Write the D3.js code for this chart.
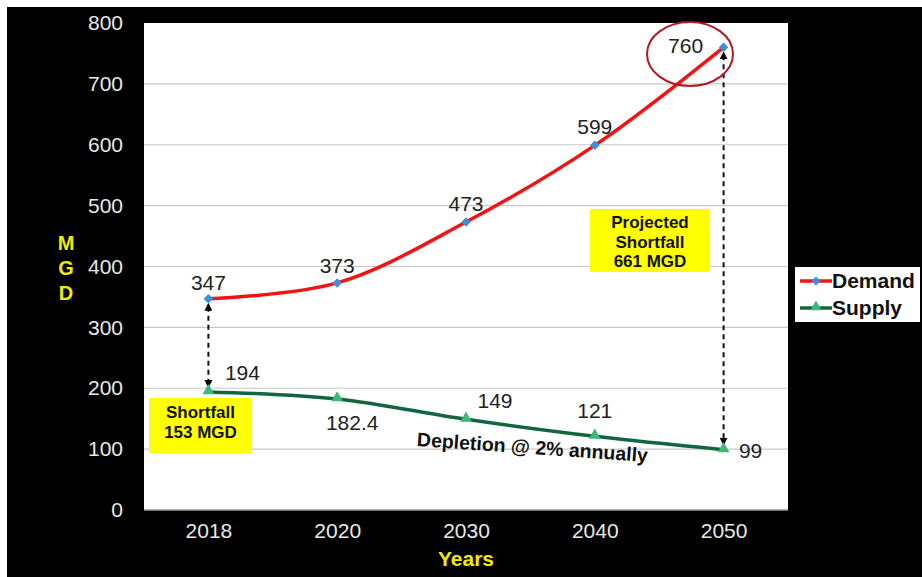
<!DOCTYPE html>
<html>
<head>
<meta charset="utf-8">
<script src="https://cdn.jsdelivr.net/npm/d3@7"></script>
<style>
html,body{margin:0;padding:0;background:#fff;}
svg{display:block;}
text{font-family:"Liberation Sans",Arial,sans-serif;}
</style>
</head>
<body>
<svg id="chart" width="922" height="577"></svg>
<script>
const years = ["2018","2020","2030","2040","2050"];
const demand = [347,373,473,599,760];
const supply = [194,182.4,149,121,99];
const demandLabels = ["347","373","473","599","760"];
const supplyLabels = ["194","182.4","149","121","99"];
const yTicks = [0,100,200,300,400,500,600,700,800];

const svg = d3.select("#chart");
svg.append("rect").attr("x",0).attr("y",0).attr("width",922).attr("height",577).attr("fill","#fff");
svg.append("rect").attr("x",7).attr("y",7).attr("width",915).attr("height",570).attr("fill","#000");

const L=144, R=788, T=23, B=510;
const x = d3.scalePoint().domain(years).range([L,R]).padding(0.5);
const y = d3.scaleLinear().domain([0,800]).range([B,T]);

svg.append("rect").attr("x",L).attr("y",T).attr("width",R-L).attr("height",B-T).attr("fill","#fff");

svg.append("g").selectAll("line").data(yTicks.filter(d=>d>0 && d<800)).join("line")
  .attr("x1",L).attr("x2",R).attr("y1",d=>y(d)).attr("y2",d=>y(d))
  .attr("stroke","#c8c8c8").attr("stroke-width",1.2);
svg.append("line").attr("x1",L).attr("x2",R).attr("y1",B).attr("y2",B).attr("stroke","#999").attr("stroke-width",1.5);

const yAxis = d3.axisLeft(y).tickValues(yTicks).tickSize(0).tickPadding(0);
const gy = svg.append("g").attr("transform",`translate(${L-21},0)`).call(yAxis);
gy.select(".domain").remove();
gy.selectAll("text").attr("fill","#e8e8e8").style("font-size","21px").attr("font-family","'Liberation Sans',Arial,sans-serif");

const xAxis = d3.axisBottom(x).tickSize(0).tickPadding(0);
const gx = svg.append("g").attr("transform",`translate(0,${B+13})`).call(xAxis);
gx.select(".domain").remove();
gx.selectAll("text").attr("fill","#e8e8e8").style("font-size","21px").attr("font-family","'Liberation Sans',Arial,sans-serif");

svg.append("text").attr("x",x("2030")).attr("y",566).attr("text-anchor","middle")
  .attr("fill","#f2ea00").style("font-size","21px").style("font-weight","bold").text("Years");
const mgd = svg.append("text").attr("fill","#f2ea00").style("font-size","20px").style("font-weight","bold").attr("text-anchor","middle");
["M","G","D"].forEach((c,i)=>{
  mgd.append("tspan").attr("x",66).attr("y",250+i*25).text(c);
});

const defs = svg.append("defs");
defs.append("marker").attr("id","arr").attr("viewBox","0 0 10 10").attr("refX",5).attr("refY",5)
  .attr("markerWidth",4).attr("markerHeight",4).attr("orient","auto-start-reverse")
  .append("path").attr("d","M0,0 L10,5 L0,10 z").attr("fill","#000");

function dashedArrow(cat, v1, v2){
  svg.append("line").attr("x1",x(cat)).attr("x2",x(cat))
    .attr("y1",y(v1)+8).attr("y2",y(v2)-8)
    .attr("stroke","#111").attr("stroke-width",2).attr("stroke-dasharray","5,4")
    .attr("marker-start","url(#arr)").attr("marker-end","url(#arr)");
}
dashedArrow("2018",347,194);
dashedArrow("2050",760,99);

const line = d3.line().x((d,i)=>x(years[i])).y(d=>y(d)).curve(d3.curveCatmullRom.alpha(0.5));
svg.append("path").datum(supply).attr("d",line).attr("fill","none").attr("stroke","#12663f").attr("stroke-width",3.5);
svg.append("path").datum(demand).attr("d",line).attr("fill","none").attr("stroke","#f01414").attr("stroke-width",3.5);

svg.append("g").selectAll("path").data(demand).join("path")
  .attr("d",d3.symbol().type(d3.symbolSquare).size(45))
  .attr("transform",(d,i)=>`translate(${x(years[i])},${y(d)}) rotate(45)`)
  .attr("fill","#3d8fd8");
svg.append("g").selectAll("path").data(supply).join("path")
  .attr("d",d3.symbol().type(d3.symbolTriangle).size(60))
  .attr("transform",(d,i)=>`translate(${x(years[i])},${y(d)-1})`)
  .attr("fill","#3cb878");

const dOff = [[0,-9],[0,-10],[0,-11],[0,-11],[-38,6]];
svg.append("g").selectAll("text").data(demand).join("text")
  .attr("x",(d,i)=>x(years[i])+dOff[i][0]).attr("y",(d,i)=>y(d)+dOff[i][1])
  .attr("text-anchor","middle").attr("fill","#222").style("font-size","21px")
  .text((d,i)=>demandLabels[i]);
const sOff = [[34,-12],[15,31],[29,-11],[0,-18],[27,8]];
svg.append("g").selectAll("text").data(supply).join("text")
  .attr("x",(d,i)=>x(years[i])+sOff[i][0]).attr("y",(d,i)=>y(d)+sOff[i][1])
  .attr("text-anchor","middle").attr("fill","#222").style("font-size","21px")
  .text((d,i)=>supplyLabels[i]);

svg.append("ellipse").attr("cx",690).attr("cy",54).attr("rx",43).attr("ry",32)
  .attr("fill","none").attr("stroke","#b01c22").attr("stroke-width",2);

function yellowBox(bx,by,bw,bh,lines,ly0,lh){
  svg.append("rect").attr("x",bx).attr("y",by).attr("width",bw).attr("height",bh).attr("fill","#ffff00");
  lines.forEach((s,i)=>svg.append("text").attr("text-anchor","middle").attr("fill","#111")
    .style("font-size","17px").style("font-weight","bold")
    .attr("x",bx+bw/2).attr("y",ly0+i*lh).text(s));
}
yellowBox(590,209,120,63,["Projected","Shortfall","661 MGD"],228,19.5);
yellowBox(149,398,103,55,["Shortfall","153 MGD"],418,19.5);

svg.append("text").attr("transform","translate(532,454) rotate(4)").attr("text-anchor","middle")
  .attr("fill","#111").style("font-size","19.5px").style("font-weight","bold").text("Depletion @ 2% annually");

const lg = svg.append("g");
lg.append("rect").attr("x",795).attr("y",267).attr("width",125).attr("height",55).attr("fill","#fff");
const legendItems = [{name:"Demand",color:"#f01414",mark:"diamond",mc:"#3d8fd8",yy:281},
                     {name:"Supply",color:"#12663f",mark:"tri",mc:"#3cb878",yy:308}];
legendItems.forEach(it=>{
  lg.append("line").attr("x1",800).attr("x2",832).attr("y1",it.yy).attr("y2",it.yy)
    .attr("stroke",it.color).attr("stroke-width",3.5);
  if(it.mark==="diamond"){
    lg.append("path").attr("d",d3.symbol().type(d3.symbolSquare).size(40)).attr("transform",`translate(816,${it.yy}) rotate(45)`).attr("fill",it.mc);
  } else {
    lg.append("path").attr("d",d3.symbol().type(d3.symbolTriangle).size(55)).attr("transform",`translate(816,${it.yy-1})`).attr("fill",it.mc);
  }
  lg.append("text").attr("x",832).attr("y",it.yy+7).attr("fill","#111")
    .style("font-size","21px").style("font-weight","bold").text(it.name);
});
</script>
</body>
</html>
